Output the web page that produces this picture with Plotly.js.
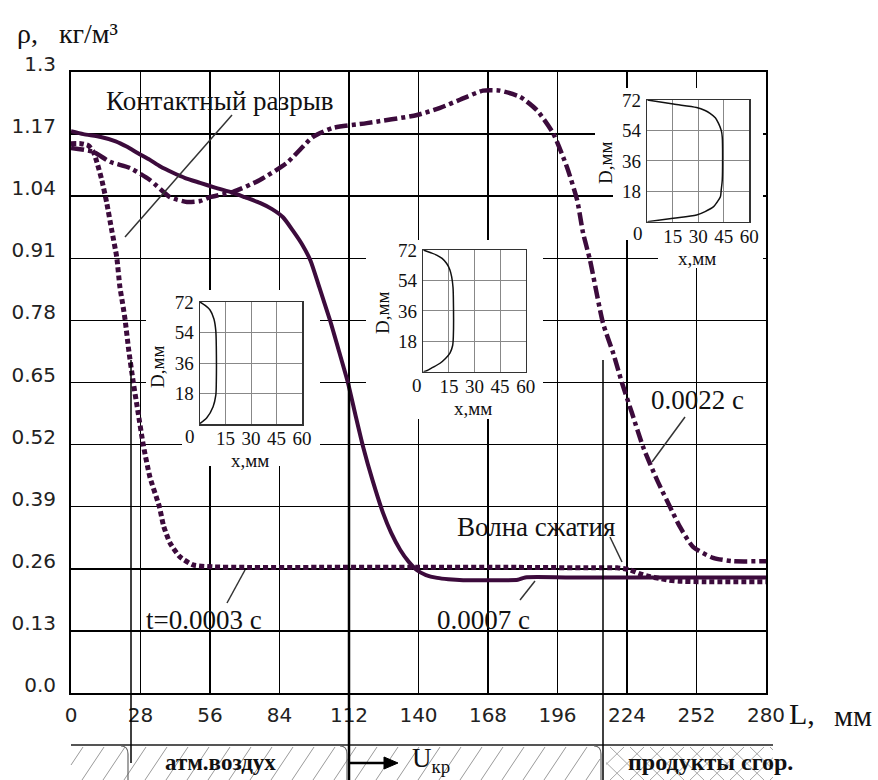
<!DOCTYPE html>
<html>
<head>
<meta charset="utf-8">
<script src="https://cdn.plot.ly/plotly-3.0.1.min.js"></script>
<style>html,body{margin:0;padding:0;background:#fff;}#chart{width:878px;height:780px;}</style>
</head>
<body>
<div id="chart"></div>
<script>
// ---------- data ----------
var tickL = [0, 28, 56, 84, 112, 140, 168, 196, 224, 252, 280];
var tickRho = [0, 0.13, 0.26, 0.39, 0.52, 0.65, 0.78, 0.91, 1.04, 1.17, 1.3];
var tickRhoText = ['0.0', '0.13', '0.26', '0.39', '0.52', '0.65', '0.78', '0.91', '1.04', '1.17', '1.3'];

// t = 0.0003 s (dotted)
var L_0003 = [0, 4, 7, 9, 10.5, 12.4, 14.4, 16.4, 18.4, 19.7, 20.8, 21.8, 23.2, 25.1, 27.1, 29.1, 31.8, 35.6, 37.3, 39.9, 43.9, 49.2, 57.2, 70, 100, 140, 180, 210, 220, 225, 229, 233, 237, 241, 245, 255, 280];
var rho_0003 = [1.150, 1.150, 1.146, 1.133, 1.11, 1.074, 1.026, 0.969, 0.913, 0.85, 0.815, 0.781, 0.72, 0.65, 0.585, 0.52, 0.452, 0.39, 0.35, 0.314, 0.285, 0.268, 0.264, 0.263, 0.263, 0.263, 0.263, 0.262, 0.262, 0.258, 0.250, 0.244, 0.240, 0.236, 0.234, 0.233, 0.233];

// t = 0.0007 s (solid)
var L_0007 = [0, 5, 12, 18, 22.4, 27, 31.8, 36, 41.1, 46, 52, 58, 65.3, 70, 76.1, 81, 85.4, 89.4, 93, 96.5, 100, 104.3, 108, 111.6, 114.6, 117.7, 121.5, 125.7, 129, 132.6, 136, 139.4, 143, 147.5, 152, 158, 170, 180, 183, 200, 230, 260, 280];
var rho_0007 = [1.176, 1.170, 1.164, 1.155, 1.144, 1.130, 1.116, 1.102, 1.089, 1.078, 1.068, 1.058, 1.047, 1.038, 1.026, 1.013, 0.996, 0.968, 0.94, 0.905, 0.85, 0.781, 0.715, 0.649, 0.582, 0.515, 0.445, 0.377, 0.335, 0.300, 0.275, 0.257, 0.247, 0.241, 0.238, 0.236, 0.236, 0.237, 0.242, 0.242, 0.242, 0.242, 0.242];

// t = 0.0022 s (dash-dot)
var L_0022 = [0, 8.9, 15.7, 23.8, 31.8, 39.9, 46.7, 52, 56, 65.3, 76.1, 87, 97.5, 105.6, 119.2, 139.4, 148.7, 156.7, 166, 172.8, 180.9, 187.7, 194.2, 199.8, 203.9, 206.3, 209.1, 214.3, 218.4, 222, 226, 230.5, 236.1, 242.5, 245.4, 250.6, 258.7, 266.7, 280];
var rho_0022 = [1.141, 1.133, 1.112, 1.099, 1.074, 1.038, 1.028, 1.030, 1.038, 1.049, 1.074, 1.110, 1.164, 1.183, 1.193, 1.21, 1.225, 1.242, 1.261, 1.261, 1.248, 1.220, 1.172, 1.101, 1.032, 0.963, 0.906, 0.775, 0.712, 0.649, 0.586, 0.515, 0.446, 0.377, 0.347, 0.306, 0.283, 0.276, 0.276];

// inset profiles D(x)
var insetTicksX = [15, 30, 45, 60];
var insetTicksD = [18, 36, 54, 72];
var in1_x = [0, 3, 5.9, 8.2, 9.3, 9.6, 9.6, 9.3, 7.7, 3.9, 0];
var in1_D = [72, 70, 67.3, 62, 55, 45, 25, 17, 10.2, 3.5, 0.3];
var in2_x = [0, 4, 7.8, 11, 13.7, 15.5, 16.6, 17.4, 17.6, 17.6, 17.2, 15.6, 13, 9.8, 5.5, 2, 0];
var in2_D = [72, 70.5, 69, 67, 64, 60.5, 56.2, 50, 44.4, 20.8, 15.5, 11, 7.8, 5, 2.5, 0.6, 0];
var in3_x = [0, 15.3, 29, 34, 36.9, 40, 41.9, 43.5, 44.1, 44.1, 43.5, 43, 41, 39, 34, 29, 15.3, 0];
var in3_D = [72, 69.6, 67.6, 65.8, 64.1, 61.5, 58.2, 54, 50, 24.7, 19, 14.8, 11.5, 8.9, 6, 4, 2, 0];

// ---------- layout helpers (pixel geometry of the page) ----------
var PL = 71, PR = 766, PT = 72, PB = 693;
function PX(px) { return (px - PL) / (PR - PL); }
function PY(py) { return (PB - py) / (PB - PT); }
function DL(px) { return (px - PL) / (PR - PL) * 280; }
function DR(py) { return (PB - py) / (PB - PT) * 1.3; }

var C = '#3c0b3c';
var SERIF = 'Liberation Serif, Times New Roman, serif';
var SANS = 'DejaVu Sans, sans-serif';

var traces = [
  {x: L_0003, y: rho_0003, mode: 'lines', line: {color: C, width: 5, dash: '5px,3px', shape: 'spline', smoothing: 0.6}, hoverinfo: 'skip'},
  {x: L_0007, y: rho_0007, mode: 'lines', line: {color: C, width: 4, shape: 'spline', smoothing: 0.6}, hoverinfo: 'skip'},
  {x: L_0022, y: rho_0022, mode: 'lines', line: {color: C, width: 4.5, dash: '13px,4px,4px,4px', shape: 'spline', smoothing: 0.6}, hoverinfo: 'skip'},
  {x: in1_x, y: in1_D, xaxis: 'x2', yaxis: 'y2', mode: 'lines', line: {color: '#111', width: 1.5, shape: 'spline', smoothing: 0.8}, hoverinfo: 'skip'},
  {x: in2_x, y: in2_D, xaxis: 'x3', yaxis: 'y3', mode: 'lines', line: {color: '#111', width: 1.5, shape: 'spline', smoothing: 0.8}, hoverinfo: 'skip'},
  {x: in3_x, y: in3_D, xaxis: 'x4', yaxis: 'y4', mode: 'lines', line: {color: '#111', width: 1.5, shape: 'spline', smoothing: 0.8}, hoverinfo: 'skip'}
];

function insetX(x0, x1, anchor) {
  return {domain: [PX(x0), PX(x1)], anchor: anchor, range: [0, 60], tickvals: insetTicksX,
    showgrid: true, gridcolor: '#888', gridwidth: 1, showline: true, mirror: true, linecolor: '#333', linewidth: 1.5,
    zeroline: false, ticks: '', tickfont: {family: SERIF, size: 19, color: '#111'}, ticklabelstandoff: -3, fixedrange: true, automargin: false};
}
function insetY(y0, y1, anchor) {
  return {domain: [PY(y1), PY(y0)], anchor: anchor, range: [0, 72], tickvals: insetTicksD,
    showgrid: true, gridcolor: '#888', gridwidth: 1, showline: true, mirror: true, linecolor: '#333', linewidth: 1.5,
    zeroline: false, ticks: '', tickfont: {family: SERIF, size: 19, color: '#111'}, ticklabelstandoff: 1, fixedrange: true, automargin: false};
}

var shapes = [];
// white boxes hiding the main grid around insets (between grid and traces)
function whiteBox(x0, y0, x1, y1) {
  shapes.push({type: 'rect', xref: 'x', yref: 'y', layer: 'between', x0: DL(x0), x1: DL(x1), y0: DR(y1), y1: DR(y0),
    fillcolor: '#fff', line: {width: 0}});
}
whiteBox(146, 290, 320, 430);
whiteBox(182, 430, 320, 466);
whiteBox(366, 240, 543, 419);
whiteBox(613, 88, 763, 240);
whiteBox(595, 88, 613, 190);
whiteBox(658, 240, 763, 268);

function seg(x0, y0, x1, y1, color, width) {
  shapes.push({type: 'line', xref: 'paper', yref: 'paper', layer: 'above', x0: PX(x0), y0: PY(y0), x1: PX(x1), y1: PY(y1),
    line: {color: color, width: width}});
}
// pointer lines
seg(125, 237, 232, 115, '#333', 1.5);
seg(227, 603, 245, 570, '#333', 1.5);
seg(520, 600, 535, 581, '#333', 1.5);
seg(610, 537, 622, 562, '#333', 1.5);
seg(685, 417, 652, 462, '#333', 1.5);

// bottom strip: hatching
function clipSeg(x0, y0, x1, y1, xmin, xmax, color) {
  var t0 = 0, t1 = 1, dx = x1 - x0;
  if (dx !== 0) {
    var ta = (xmin - x0) / dx, tb = (xmax - x0) / dx;
    var lo = Math.min(ta, tb), hi = Math.max(ta, tb);
    t0 = Math.max(t0, lo); t1 = Math.min(t1, hi);
  }
  if (t1 <= t0) return;
  seg(x0 + dx * t0, y0 + (y1 - y0) * t0, x0 + dx * t1, y0 + (y1 - y0) * t1, color, 1);
}
for (var hx = 40; hx < 610; hx += 21) clipSeg(hx, 780, hx + 22, 747, 71, 600, '#9a9a9a');
for (var cx = 570; cx < 780; cx += 20) {
  clipSeg(cx, 780, cx + 34, 747, 606, 773, '#a8a8a8');
  clipSeg(cx, 747, cx + 34, 780, 606, 773, '#a8a8a8');
}
seg(71, 745, 773, 745, '#555', 2);
// separators
seg(131, 360, 131, 763, '#000', 1.5);
seg(349, 383, 349, 780, '#000', 2.5);
seg(603, 360, 603, 780, '#000', 1.5);
function pathShape(d, color, width, fill) {
  shapes.push({type: 'path', xref: 'paper', yref: 'paper', layer: 'above', path: d,
    line: {color: color, width: width}, fillcolor: fill || 'rgba(0,0,0,0)'});
}
function P(px, py) { return PX(px).toFixed(5) + ',' + PY(py).toFixed(5); }
pathShape('M' + P(121, 746) + ' Q' + P(128, 746) + ' ' + P(128, 754) + ' L' + P(128, 780), '#666', 1.2);
pathShape('M' + P(340, 746) + ' Q' + P(347, 746) + ' ' + P(347, 754) + ' L' + P(347, 780), '#666', 1.2);
pathShape('M' + P(594, 746) + ' Q' + P(601, 746) + ' ' + P(601, 754) + ' L' + P(601, 780), '#666', 1.2);
// arrow U_kr
seg(349, 763, 388, 763, '#000', 2.5);
pathShape('M' + P(384, 757) + ' L' + P(398, 763) + ' L' + P(384, 769) + ' Z', '#000', 1, '#000');

function txt(t, cx, cy, size, fam, extra) {
  var a = {text: t, xref: 'paper', yref: 'paper', x: PX(cx), y: PY(cy), xanchor: 'center', yanchor: 'middle',
    showarrow: false, font: {family: fam || SERIF, size: size, color: '#111'}};
  if (extra) for (var k in extra) a[k] = extra[k];
  return a;
}
var annotations = [
  txt('ρ,', 27, 34, 28),
  txt('кг/м³', 88, 34, 28),
  txt('L,', 802, 713, 30),
  txt('мм', 853, 715, 30),
  txt('Контактный разрыв', 220, 101, 27),
  txt('t=0.0003 с', 204, 620, 27),
  txt('0.0007 с', 483, 620, 27),
  txt('Волна сжатия', 536, 527, 27),
  txt('0.0022 с', 697, 400, 27),
  txt('<b>атм.воздух</b>', 220, 762, 23),
  txt('U<sub>кр</sub>', 431, 760, 27),
  txt('<b>продукты сгор.</b>', 710, 762, 24),
  // inset labels
  txt('D,мм', 157, 367, 19, SERIF, {textangle: -90}),
  txt('x,мм', 250, 460, 19),
  txt('0', 190, 437, 19),
  txt('D,мм', 382, 313, 19, SERIF, {textangle: -90}),
  txt('x,мм', 473, 408, 19),
  txt('0', 417, 385, 19),
  txt('D,мм', 605, 163, 19, SERIF, {textangle: -90}),
  txt('x,мм', 697, 258, 19),
  txt('0', 638, 233, 19)
];

var layout = {
  width: 878, height: 780,
  margin: {l: PL, r: 878 - PR, t: PT, b: 780 - PB, pad: 0},
  paper_bgcolor: '#fff', plot_bgcolor: '#fff',
  showlegend: false,
  xaxis: {domain: [0, 1], range: [0, 280], tickvals: tickL, ticktext: tickL.map(String),
    showgrid: true, gridcolor: '#000', gridwidth: 1.5, showline: true, mirror: true, linecolor: '#000', linewidth: 2,
    zeroline: false, ticks: '', tickfont: {family: SANS, size: 20, color: '#222'}, ticklabelstandoff: 3,
    fixedrange: true, automargin: false},
  yaxis: {domain: [0, 1], range: [0, 1.3], tickvals: tickRho, ticktext: tickRhoText,
    showgrid: true, gridcolor: '#000', gridwidth: 1.5, showline: true, mirror: true, linecolor: '#000', linewidth: 2,
    zeroline: false, ticks: '', tickfont: {family: SANS, size: 20, color: '#222'}, ticklabelstandoff: 9, ticklabelshift: -8,
    fixedrange: true, automargin: false},
  xaxis2: insetX(200, 302, 'y2'), yaxis2: insetY(302, 424, 'x2'),
  xaxis3: insetX(423.3, 525.7, 'y3'), yaxis3: insetY(250, 371.7, 'x3'),
  xaxis4: insetX(647.3, 749.3, 'y4'), yaxis4: insetY(100, 221.7, 'x4'),
  shapes: shapes,
  annotations: annotations
};

Plotly.newPlot('chart', traces, layout, {displayModeBar: false, staticPlot: true});
</script>
</body>
</html>
